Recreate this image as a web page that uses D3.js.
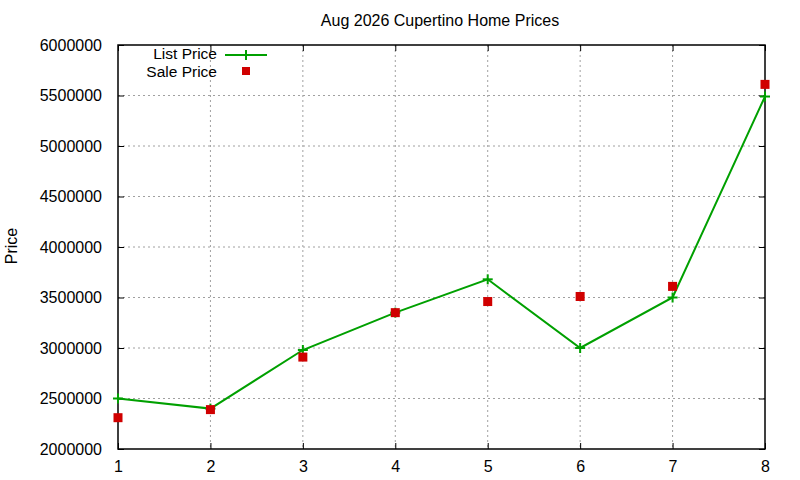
<!DOCTYPE html>
<html><head><meta charset="utf-8">
<script src="https://cdn.jsdelivr.net/npm/d3@7"></script>
<style>body{margin:0;background:#fff}svg{display:block}text{font-family:"Liberation Sans",Arial,sans-serif;fill:#000}</style>
</head><body><svg id="c" width="800" height="480"></svg>
<script>
const months = [1,2,3,4,5,6,7,8];
const listPrice = [2500000,2400000,2980000,3350000,3680000,3000000,3500000,5490000];
const salePrice = [2310000,2390000,2910000,3350000,3460000,3510000,3610000,5610000];
const yTicks = [2000000,2500000,3000000,3500000,4000000,4500000,5000000,5500000,6000000];
const title = "Aug 2026 Cupertino Home Prices";
const yLabel = "Price";

const svg = d3.select("#c");
const L=118,R=765,T=45,B=449;
const x = d3.scaleLinear().domain([1,8]).range([L,R]);
const y = d3.scaleLinear().domain([2000000,6000000]).range([B,T]);
const green="#00a000", red="#d00000";

// grid
const g = svg.append("g");
g.selectAll(".gx").data(months.slice(1,-1)).enter().append("line")
 .attr("x1",d=>x(d)).attr("x2",d=>x(d)).attr("y1",T).attr("y2",B)
 .attr("stroke","#a0a0a0").attr("stroke-width",1).attr("stroke-dasharray","2,3");
g.selectAll(".gy").data(yTicks.slice(1,-1)).enter().append("line")
 .attr("y1",d=>y(d)).attr("y2",d=>y(d)).attr("x1",L).attr("x2",R)
 .attr("stroke","#a0a0a0").attr("stroke-width",1).attr("stroke-dasharray","2,3");

// axes with inward ticks
const ax = d3.axisBottom(x).tickValues(months).tickSize(-6).tickPadding(12).tickFormat(d3.format("d"));
const axT = d3.axisTop(x).tickValues(months).tickSize(-6).tickFormat("");
const ay = d3.axisLeft(y).tickValues(yTicks).tickSize(-6).tickPadding(16).tickFormat(d3.format("d"));
const ayR = d3.axisRight(y).tickValues(yTicks).tickSize(-6).tickFormat("");
function style(s){s.select(".domain").remove();s.selectAll("line").attr("stroke","#000");s.selectAll("text").style("font-size","16px").style("font-family","'Liberation Sans',Arial,sans-serif");}
svg.append("g").attr("transform",`translate(0,${B})`).call(ax).call(style);
svg.append("g").attr("transform",`translate(0,${T})`).call(axT).call(style);
svg.append("g").attr("transform",`translate(${L},0)`).call(ay).call(style);
svg.append("g").attr("transform",`translate(${R},0)`).call(ayR).call(style);
svg.append("rect").attr("x",L).attr("y",T).attr("width",R-L).attr("height",B-T).attr("fill","none").attr("stroke","#000").attr("stroke-width",1.5);

// list line
const line = d3.line().x((d,i)=>x(months[i])).y(d=>y(d));
svg.append("path").datum(listPrice).attr("d",line).attr("fill","none").attr("stroke",green).attr("stroke-width",2);
const plus = (s)=>{s.append("line").attr("x1",-5).attr("x2",5).attr("y1",0).attr("y2",0);s.append("line").attr("x1",0).attr("x2",0).attr("y1",-5).attr("y2",5);};
svg.selectAll(".pl").data(listPrice).enter().append("g")
 .attr("transform",(d,i)=>`translate(${x(months[i])},${y(d)})`).attr("stroke",green).attr("stroke-width",2).each(function(){plus(d3.select(this));});
// sale squares
svg.selectAll(".sq").data(salePrice).enter().append("rect")
 .attr("x",(d,i)=>x(months[i])-4.5).attr("y",d=>y(d)-4.5).attr("width",9).attr("height",9).attr("fill",red);

// legend
svg.append("text").attr("x",217).attr("y",59).attr("text-anchor","end").style("font-size","15.5px").text("List Price");
svg.append("line").attr("x1",225).attr("x2",267).attr("y1",55).attr("y2",55).attr("stroke",green).attr("stroke-width",2);
const lg=svg.append("g").attr("transform","translate(246,55)").attr("stroke",green).attr("stroke-width",2); plus(lg);
svg.append("text").attr("x",217).attr("y",77).attr("text-anchor","end").style("font-size","15.5px").text("Sale Price");
svg.append("rect").attr("x",242).attr("y",67).attr("width",8).attr("height",8).attr("fill",red);

svg.append("text").attr("x",440).attr("y",26).attr("text-anchor","middle").style("font-size","16px").text(title);
svg.append("text").attr("transform","translate(17,246) rotate(-90)").attr("text-anchor","middle").style("font-size","16px").text(yLabel);
</script></body></html>
